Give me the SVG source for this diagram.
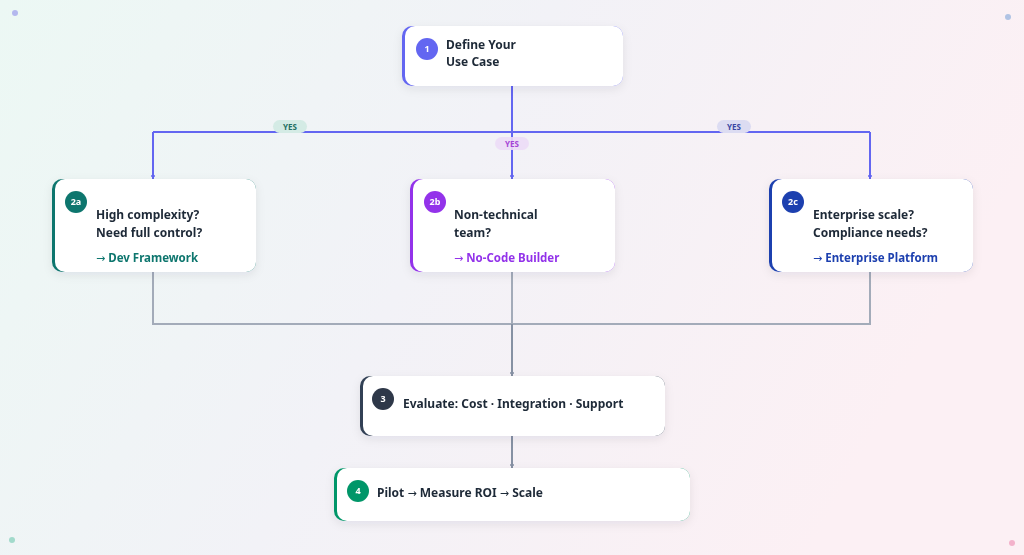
<svg xmlns="http://www.w3.org/2000/svg" width="1024" height="555" viewBox="0 0 1024 555">
<defs>
<linearGradient id="bg" x1="0" y1="0" x2="1" y2="0.3">
<stop offset="0" stop-color="#ecf8f4"/>
<stop offset="0.5" stop-color="#f2f2f7"/>
<stop offset="1" stop-color="#fcf0f4"/>
</linearGradient>
<filter id="sh" x="-20%" y="-30%" width="140%" height="170%">
<feDropShadow dx="0" dy="3" stdDeviation="5" flood-color="#1e293b" flood-opacity="0.08"/>
</filter>
<marker id="teeI" markerWidth="10" markerHeight="4" refX="5" refY="2" orient="auto" markerUnits="userSpaceOnUse" viewBox="0 0 10 4">
<path d="M2 -3 L2 7" stroke="#6366f1" stroke-width="1.5"/>
</marker>
<marker id="teeG" markerWidth="10" markerHeight="4" refX="5" refY="2" orient="auto" markerUnits="userSpaceOnUse" viewBox="0 0 10 4">
<path d="M2 -3 L2 7" stroke="#8691a3" stroke-width="1.5"/>
</marker>
</defs>
<style>
text{font-family:"Noto Sans","Open Sans","Liberation Sans",sans-serif;font-weight:700;}
.t{font-size:12px;fill:#1f2937;}
.n{font-size:9px;fill:#ffffff;font-weight:700;}
.r{font-size:11.5px;font-weight:700;}
.y{font-size:8px;font-weight:700;}
.a{font-family:"DejaVu Sans",sans-serif;font-weight:400;font-size:11px;}
.card{fill:#ffffff;}
.li{fill:none;stroke:#6366f1;stroke-width:2;}
.lg{fill:none;stroke:#a3abb9;stroke-width:2;}
.lgd{fill:none;stroke:#8691a3;stroke-width:2;}
</style>
<rect width="1024" height="555" fill="url(#bg)"/>
<circle cx="15" cy="13" r="3" fill="#a5a8ec" opacity="0.8"/>
<circle cx="1008" cy="17" r="3" fill="#9db8e0" opacity="0.8"/>
<circle cx="12" cy="540" r="3" fill="#8fd3c0" opacity="0.8"/>
<circle cx="1012" cy="543" r="3" fill="#f0a3c0" opacity="0.8"/>

<g id="connectors">
<path class="li" d="M512 86 V132"/>
<path class="li" d="M153 132 H870"/>
<path class="li" d="M153 132 V179" marker-end="url(#teeI)"/>
<path class="li" d="M512 132 V179" marker-end="url(#teeI)"/>
<path class="li" d="M870 132 V179" marker-end="url(#teeI)"/>
<path class="lg" d="M153 272 V324 H870 V272"/>
<path class="lg" d="M512 272 V324"/>
<path class="lgd" d="M512 324 V376" marker-end="url(#teeG)"/>
<path class="lgd" d="M512 436 V468" marker-end="url(#teeG)"/>
<rect x="273" y="120" width="34" height="13" rx="6.5" fill="#d4ebe5"/>
<text class="y" x="290" y="129.5" text-anchor="middle" fill="#1f6f63">YES</text>
<rect x="717" y="120" width="34" height="13" rx="6.5" fill="#dcdcf2"/>
<text class="y" x="734" y="129.5" text-anchor="middle" fill="#3b47a3">YES</text>
<rect x="495" y="137" width="34" height="13" rx="6.5" fill="#ecdcf6" opacity="0.9"/>
<text class="y" x="512" y="146.5" text-anchor="middle" fill="#a543d6">YES</text>
</g>

<g id="node1" filter="url(#sh)">
<rect x="402" y="26" width="221" height="60" rx="10" fill="#6366f1"/>
<rect x="405" y="26" width="218" height="60" rx="10" class="card"/>
<circle cx="427" cy="49" r="11" fill="#6366f1"/>
<text class="n" x="427" y="52.2" text-anchor="middle">1</text>
<text class="t" x="446" y="49">Define Your</text>
<text class="t" x="446" y="66">Use Case</text>
</g>

<g id="node2a" filter="url(#sh)">
<rect x="52" y="179" width="204" height="93" rx="10" fill="#0f766e"/>
<rect x="55" y="179" width="201" height="93" rx="10" class="card"/>
<circle cx="76" cy="202" r="11" fill="#0f766e"/>
<text class="n" x="76" y="205.2" text-anchor="middle">2a</text>
<text class="t" x="96" y="219">High complexity?</text>
<text class="t" x="96" y="237">Need full control?</text>
<text class="r" x="96" y="262" fill="#0f766e"><tspan class="a">→</tspan> Dev Framework</text>
</g>

<g id="node2b" filter="url(#sh)">
<rect x="410" y="179" width="205" height="93" rx="10" fill="#9333ea"/>
<rect x="413" y="179" width="202" height="93" rx="10" class="card"/>
<circle cx="435" cy="202" r="11" fill="#9333ea"/>
<text class="n" x="435" y="205.2" text-anchor="middle">2b</text>
<text class="t" x="454" y="219">Non-technical</text>
<text class="t" x="454" y="237">team?</text>
<text class="r" x="454" y="262" fill="#9333ea"><tspan class="a">→</tspan> No-Code Builder</text>
</g>

<g id="node2c" filter="url(#sh)">
<rect x="769" y="179" width="204" height="93" rx="10" fill="#1e40af"/>
<rect x="772" y="179" width="201" height="93" rx="10" class="card"/>
<circle cx="793" cy="202" r="11" fill="#1e40af"/>
<text class="n" x="793" y="205.2" text-anchor="middle">2c</text>
<text class="t" x="813" y="219">Enterprise scale?</text>
<text class="t" x="813" y="237">Compliance needs?</text>
<text class="r" x="813" y="262" fill="#1e40af"><tspan class="a">→</tspan> Enterprise Platform</text>
</g>

<g id="node3" filter="url(#sh)">
<rect x="360" y="376" width="305" height="60" rx="10" fill="#334155"/>
<rect x="363" y="376" width="302" height="60" rx="10" class="card"/>
<circle cx="383" cy="399" r="11" fill="#2d3748"/>
<text class="n" x="383" y="402.2" text-anchor="middle">3</text>
<text class="t" x="403" y="408">Evaluate: Cost · Integration · Support</text>
</g>

<g id="node4" filter="url(#sh)">
<rect x="334" y="468" width="356" height="53" rx="10" fill="#059669"/>
<rect x="337" y="468" width="353" height="53" rx="10" class="card"/>
<circle cx="358" cy="491" r="11" fill="#059669"/>
<text class="n" x="358" y="494.2" text-anchor="middle">4</text>
<text class="t" x="377" y="497">Pilot <tspan class="a">→</tspan> Measure ROI <tspan class="a">→</tspan> Scale</text>
</g>
</svg>
